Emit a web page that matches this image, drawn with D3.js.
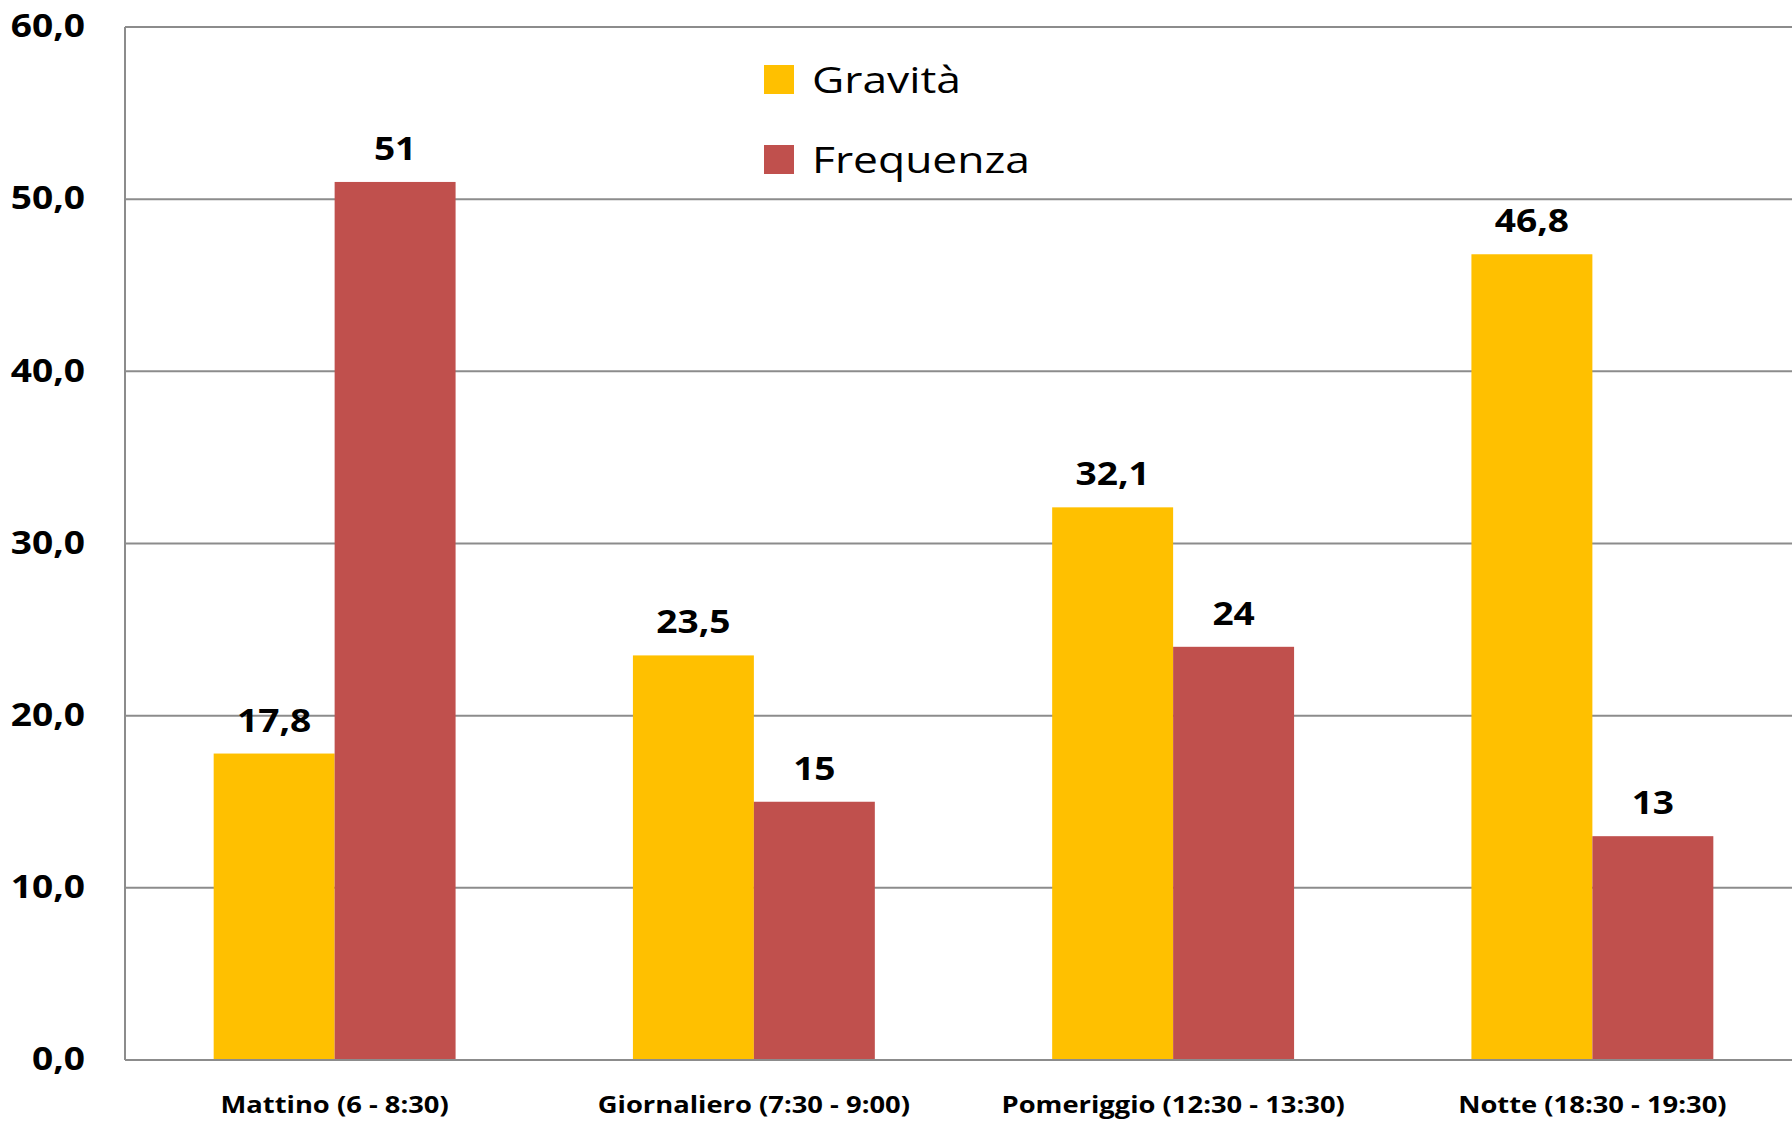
<!DOCTYPE html>
<html lang="it">
<head>
  <meta charset="UTF-8">
  <title>Gravità e Frequenza per fascia oraria</title>
  <script src="https://d3js.org/d3.v7.min.js"></script>
  <style>
    body { margin: 0; background: #ffffff; overflow: hidden; }
    svg { display: block; font-family: "Open Sans", Lato, sans-serif; }
    .grid line { stroke: #8c8c8c; stroke-width: 2px; }
    .tick-label { font-size: 32px; font-weight: bold; fill: #000; }
    .cat-label { font-size: 24px; font-weight: bold; fill: #000; }
    .value-label { font-size: 32px; font-weight: bold; fill: #000; }
    .legend text { font-size: 37px; fill: #000; }
  </style>
</head>
<body>
<div id="chart"></div>
<script>
// data
const categories = ["Mattino (6 - 8:30)", "Giornaliero (7:30 - 9:00)", "Pomeriggio (12:30 - 13:30)", "Notte (18:30 - 19:30)"];
const gravita = [17.8, 23.5, 32.1, 46.8];
const frequenza = [51, 15, 24, 13];
const gravitaLabels = ["17,8", "23,5", "32,1", "46,8"];
const frequenzaLabels = ["51", "15", "24", "13"];
const yTicks = [0, 10, 20, 30, 40, 50, 60];

const series = [
  { key: "gravita", name: "Gravità", values: gravita, labels: gravitaLabels, color: "#FFC000" },
  { key: "frequenza", name: "Frequenza", values: frequenza, labels: frequenzaLabels, color: "#C0504D" }
];

const W = 1792, H = 1121;
const plot = { left: 125, right: 1802, top: 27, bottom: 1060 };
// the original picture is stretched sideways, so the text is too
const stretch = 1.16;
const at = (px, py, sx = stretch) => `translate(${px},${py}) scale(${sx},1)`;

const svg = d3.select("#chart").append("svg")
  .attr("width", W)
  .attr("height", H);

const y = d3.scaleLinear().domain([0, 60]).range([plot.bottom, plot.top]);

const x = d3.scaleBand()
  .domain(categories)
  .range([plot.left, plot.right])
  .paddingInner(0.423)
  .paddingOuter(0.2115);

const xSub = d3.scaleBand()
  .domain(series.map(s => s.key))
  .range([0, x.bandwidth()]);

// gridlines
const grid = svg.append("g").attr("class", "grid");
grid.selectAll("line")
  .data(yTicks)
  .join("line")
  .attr("x1", plot.left)
  .attr("x2", W)
  .attr("y1", d => y(d))
  .attr("y2", d => y(d));

// left axis line
svg.append("line")
  .attr("x1", plot.left).attr("x2", plot.left)
  .attr("y1", plot.top).attr("y2", plot.bottom)
  .attr("stroke", "#8c8c8c")
  .attr("stroke-width", 2);

// y tick labels
svg.append("g").selectAll("text")
  .data(yTicks)
  .join("text")
  .attr("class", "tick-label")
  .attr("transform", d => at(85, y(d)))
  .attr("dy", "0.32em")
  .attr("text-anchor", "end")
  .text(d => d.toFixed(1).replace(".", ","));

// bars
const groups = svg.append("g").selectAll("g")
  .data(categories)
  .join("g")
  .attr("transform", d => `translate(${x(d)},0)`);

series.forEach(s => {
  groups.append("rect")
    .attr("x", xSub(s.key))
    .attr("width", xSub.bandwidth())
    .attr("y", (d, i) => y(s.values[i]))
    .attr("height", (d, i) => y(0) - y(s.values[i]))
    .attr("fill", s.color);

  groups.append("text")
    .attr("class", "value-label")
    .attr("transform", (d, i) => at(xSub(s.key) + xSub.bandwidth() / 2, y(s.values[i]) - 22))
    .attr("text-anchor", "middle")
    .text((d, i) => s.labels[i]);
});

// bottom axis line (drawn over bars)
svg.append("line")
  .attr("x1", plot.left).attr("x2", W)
  .attr("y1", plot.bottom).attr("y2", plot.bottom)
  .attr("stroke", "#8c8c8c")
  .attr("stroke-width", 2);

// category labels
svg.append("g").selectAll("text")
  .data(categories)
  .join("text")
  .attr("class", "cat-label")
  .attr("transform", d => at(x(d) + x.bandwidth() / 2, 1113, 1.14))
  .attr("text-anchor", "middle")
  .text(d => d);

// legend
const legend = svg.append("g").attr("class", "legend")
  .attr("transform", "translate(764,65)");

series.forEach((s, i) => {
  const row = legend.append("g").attr("transform", `translate(0,${i * 80})`);
  row.append("rect")
    .attr("width", 30)
    .attr("height", 29)
    .attr("fill", s.color);
  row.append("text")
    .attr("transform", at(48, 28, 1.2))
    .text(s.name);
});
</script>
</body>
</html>
